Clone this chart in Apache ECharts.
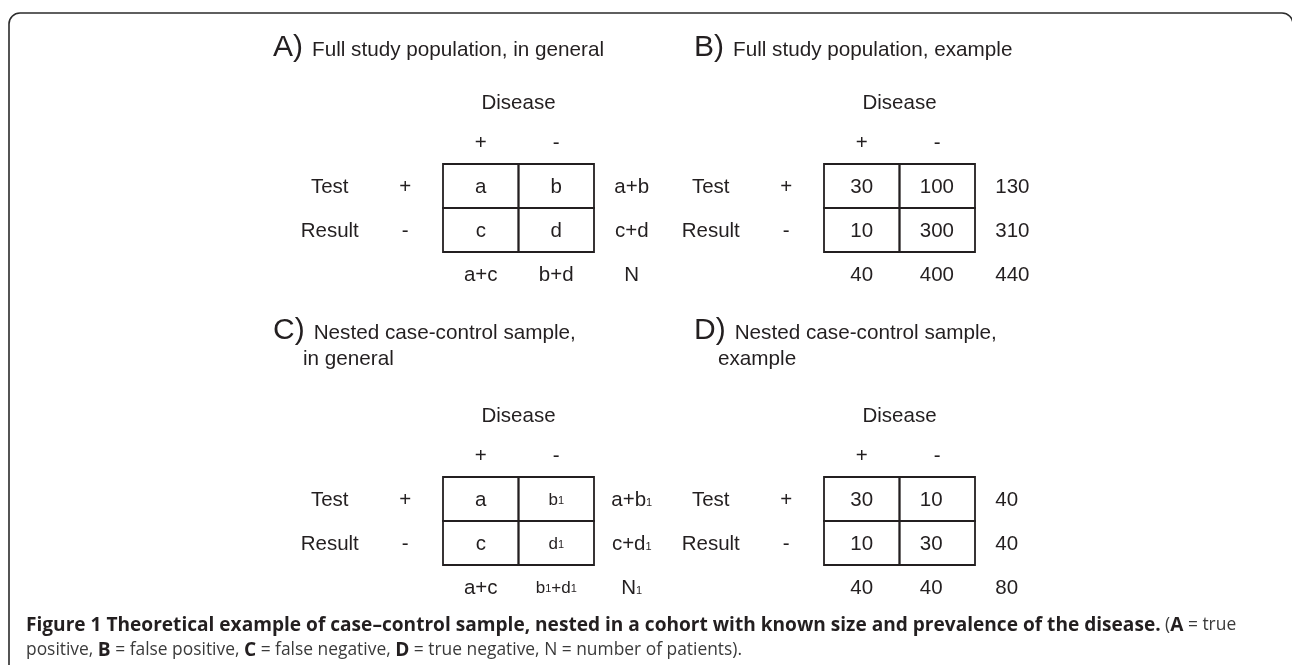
<!DOCTYPE html>
<html><head><meta charset="utf-8">
<script src="https://cdn.jsdelivr.net/npm/echarts@6/dist/echarts.min.js"></script>
<style>html,body{margin:0;padding:0;background:#fff}#c{width:1292px;height:665px}</style>
</head><body><div id="c"></div>
<script>
// ---------- data ----------
const factorName = 'Disease';
const rowNames = ['Test', 'Result'];
const colHeads = ['+', '-'];
const rowHeads = ['+', '-'];

const cellsA = [['a', 'b'], ['c', 'd']];
const rowTotalsA = ['a+b', 'c+d'];
const colTotalsA = ['a+c', 'b+d', 'N'];

const cellsB = [[30, 100], [10, 300]];
const rowTotalsB = [130, 310];
const colTotalsB = [40, 400, 440];

const cellsC = [['a', 'b₁'], ['c', 'd₁']];
const rowTotalsC = ['a+b₁', 'c+d₁'];
const colTotalsC = ['a+c', 'b₁+d₁', 'N₁'];

const cellsD = [[30, 10], [10, 30]];
const rowTotalsD = [40, 40];
const colTotalsD = [40, 40, 80];

const panelLetters = ['A)', 'B)', 'C)', 'D)'];
const panelTitles = [
  ['Full study population, in general'],
  ['Full study population, example'],
  ['Nested case-control sample,', 'in general'],
  ['Nested case-control sample,', 'example']
];
const captionBold = 'Figure 1 Theoretical example of case\u2013control sample, nested in a cohort with known size and prevalence of the disease.';
const captionLegend = [['A', 'true positive'], ['B', 'false positive'], ['C', 'false negative'], ['D', 'true negative']];
const captionTail = 'N = number of patients).';

// ---------- layout / style ----------
const FONT = '"Liberation Sans", Arial, Helvetica, sans-serif';
const CAPFONT = '"Open Sans", sans-serif';
const INK = '#231f20';
const panels = [
  { cells: cellsA, rowTot: rowTotalsA, colTot: colTotalsA, left: 292, top: 76, numeric: false },
  { cells: cellsB, rowTot: rowTotalsB, colTot: colTotalsB, left: 673, top: 76, numeric: true },
  { cells: cellsC, rowTot: rowTotalsC, colTot: colTotalsC, left: 292, top: 389, numeric: false },
  { cells: cellsD, rowTot: rowTotalsD, colTot: colTotalsD, left: 673, top: 389, numeric: true }
];
const titlePos = [
  { left: 273, top: 33, left2: 0, top2: 0 },
  { left: 694, top: 33, left2: 0, top2: 0 },
  { left: 273, top: 316, left2: 303, top2: 349 },
  { left: 694, top: 316, left2: 718, top2: 349 }
];

function buildItems(p) {
  const items = [];
  items.push({ x: 2.5, y: 0.1, t: factorName });
  colHeads.forEach((h, j) => items.push({ x: 2 + j, y: 1, t: h }));
  rowNames.forEach((n, i) => items.push({ x: 0, y: 2 + i, t: n }));
  rowHeads.forEach((h, i) => items.push({ x: 1, y: 2 + i, t: h }));
  p.cells.forEach((r, i) => r.forEach((v, j) => items.push({ x: 2 + j, y: 2 + i, t: String(v), box: true })));
  p.rowTot.forEach((v, i) => items.push({ x: 4, y: 2 + i, t: String(v) }));
  p.colTot.forEach((v, j) => items.push({ x: 2 + j, y: 4, t: String(v) }));
  return items;
}

function richText(t) {
  return t.replace(/₁/g, '{sub|1}');
}

const grids = [], xAxes = [], yAxes = [], series = [], titles = [];
panels.forEach((p, k) => {
  grids.push({ left: p.left, top: p.top, width: 377.5, height: 220 });
  xAxes.push({ type: 'value', gridIndex: k, min: -0.5, max: 4.5, show: false });
  yAxes.push({ type: 'value', gridIndex: k, min: -0.5, max: 4.5, inverse: true, show: false });
  const items = buildItems(p);
  series.push({
    type: 'custom', xAxisIndex: k, yAxisIndex: k, silent: true,
    data: items.map(d => [d.x, d.y]),
    renderItem: function (params, api) {
      const d = items[params.dataIndex];
      const c = api.coord([api.value(0), api.value(1)]);
      const s = api.size([1, 1]);
      const children = [];
      if (d.box) {
        children.push({
          type: 'rect',
          shape: { x: c[0] - s[0] / 2, y: c[1] - s[1] / 2, width: s[0], height: s[1] },
          style: { fill: 'none', stroke: INK, lineWidth: 1.8 }
        });
      }
      const hasSub = d.t.indexOf('₁') >= 0;
      const small = hasSub && d.x === 3;
      let align = 'center', tx = c[0];
      if (p.numeric && d.y >= 2 && (d.x === 3 || d.x === 4)) { align = 'left'; tx = c[0] - 17.5; }
      children.push({
        type: 'text', x: tx, y: c[1] + 1,
        style: {
          text: richText(d.t), align: align, verticalAlign: 'middle',
          fontFamily: FONT, fontSize: small ? 17 : 20.5, fontWeight: 'normal', fill: INK,
          rich: { sub: { fontFamily: FONT, fontSize: 11, fontWeight: 'normal', fill: INK, verticalAlign: 'bottom', lineHeight: 11, padding: [0, 0, 2, 0] } }
        }
      });
      return { type: 'group', children: children };
    }
  });
  const tp = titlePos[k];
  titles.push({
    left: tp.left, top: tp.top, padding: 0,
    text: '{L|' + panelLetters[k] + '}{T|' + panelTitles[k][0] + '}',
    textStyle: {
      fontWeight: 'normal',
      rich: {
        L: { fontFamily: FONT, fontSize: 30, fontWeight: 'normal', color: INK, lineHeight: 30, verticalAlign: 'bottom' },
        T: { fontFamily: FONT, fontSize: 20.7, fontWeight: 'normal', color: INK, lineHeight: 21, verticalAlign: 'bottom', padding: [0, 0, 2, 9] }
      }
    }
  });
  if (panelTitles[k].length > 1) {
    titles.push({
      left: tp.left2, top: tp.top2, padding: 0, text: panelTitles[k][1],
      textStyle: { fontFamily: FONT, fontSize: 20.7, fontWeight: 'normal', color: INK }
    });
  }
});

// caption
let cap = '{b|' + captionBold + '}{r| (}';
captionLegend.forEach((e, i) => {
  const words = e[1].split(' ');
  if (i === 0) {
    cap += '{b|' + e[0] + '}{r| = ' + words[0] + '}\n{r|' + words.slice(1).join(' ') + ', }';
  } else {
    cap += '{b|' + e[0] + '}{r| = ' + e[1] + ', }';
  }
});
cap += '{r|' + captionTail + '}';
titles.push({
  left: 26, top: 613, padding: 0, text: cap,
  textStyle: {
    fontWeight: 'normal',
    rich: {
      b: { fontFamily: CAPFONT, fontWeight: 'bold', fontSize: 19.1, color: '#231f20', lineHeight: 25 },
      r: { fontFamily: CAPFONT, fontWeight: 'normal', fontSize: 17.4, color: '#3a3a3a', lineHeight: 25 }
    }
  }
});

const chart = echarts.init(document.getElementById('c'), null, { renderer: 'canvas' });
chart.setOption({
  animation: false,
  backgroundColor: '#fff',
  title: titles,
  grid: grids, xAxis: xAxes, yAxis: yAxes, series: series,
  graphic: [{
    type: 'rect', silent: true,
    shape: { x: 9, y: 13, width: 1284, height: 720, r: 11 },
    style: { fill: 'none', stroke: '#2b2b2b', lineWidth: 1.6 }
  }]
});
</script></body></html>
